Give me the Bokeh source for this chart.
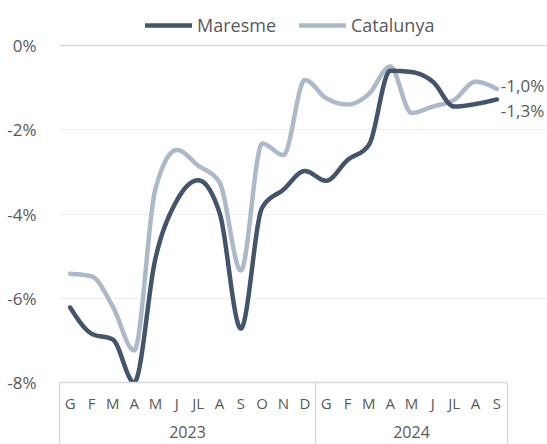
import numpy as np
from bokeh.plotting import figure
from bokeh.models import (Range1d, LinearAxis, FixedTicker, Legend, LegendItem, Grid)
from bokeh.core.properties import value
from bokeh.embed import file_html
from bokeh.resources import INLINE

# ---- data ----
months = ["G", "F", "M", "A", "M", "J", "JL", "A", "S", "O", "N", "D",
          "G", "F", "M", "A", "M", "J", "JL", "A", "S"]
years = ["2023", "2024"]
year_counts = [12, 9]
maresme = [-6.22, -6.84, -6.98, -8.00, -5.05, -3.68, -3.20, -3.97, -6.72, -3.85,
           -3.42, -2.98, -3.21, -2.72, -2.36, -0.60, -0.63, -0.86, -1.45, -1.39, -1.28]
catalunya = [-5.42, -5.48, -6.20, -7.24, -3.40, -2.48, -2.85, -3.25, -5.34, -2.33,
             -2.60, -0.82, -1.25, -1.40, -1.15, -0.50, -1.60, -1.45, -1.29, -0.86, -1.03]
y_ticks = [0, -2, -4, -6, -8]
y_labels = ["0%", "-2%", "-4%", "-6%", "-8%"]

FONT = "Open Sans"
TXT = "#595959"
DARK = "#44546A"
LIGHT = "#ADB9CA"

# ---- layout (pixels) ----
W, H = 547, 444
FL, FB = 59, 62            # left axis area, bottom axis area
PX_X = 448 / 21            # px per month
PX_Y = 337 / 8             # px per 1 %
TOP_PAD = 45               # space above the 0 % line (legend)


def monotone(ys, n=24):
    """Monotone cubic (d3 monotoneX) rendering of the series."""
    xs = np.arange(len(ys), dtype=float)
    y = np.asarray(ys, dtype=float)
    h = np.diff(xs)
    s = np.diff(y) / h
    t = np.zeros(len(y))
    for i in range(1, len(y) - 1):
        s0, s1 = s[i - 1], s[i]
        p_ = (s0 * h[i] + s1 * h[i - 1]) / (h[i - 1] + h[i])
        t[i] = (np.sign(s0) + np.sign(s1)) * min(abs(s0), abs(s1), 0.5 * abs(p_))
    t[0] = (3 * s[0] - t[1]) / 2
    t[-1] = (3 * s[-1] - t[-2]) / 2
    px, py = [], []
    for i in range(len(y) - 1):
        dx = h[i] / 3
        P0 = (xs[i], y[i])
        P1 = (xs[i] + dx, y[i] + dx * t[i])
        P2 = (xs[i + 1] - dx, y[i + 1] - dx * t[i + 1])
        P3 = (xs[i + 1], y[i + 1])
        u = np.linspace(0, 1, n, endpoint=(i == len(y) - 2))
        a = (1 - u) ** 3
        b = 3 * (1 - u) ** 2 * u
        c = 3 * (1 - u) * u ** 2
        d = u ** 3
        px.extend((a * P0[0] + b * P1[0] + c * P2[0] + d * P3[0]).tolist())
        py.extend((a * P0[1] + b * P1[1] + c * P2[1] + d * P3[1]).tolist())
    return px, py


n = len(months)
x_end = -0.5 + (W - FL) / PX_X
y_top = TOP_PAD / PX_Y
p = figure(width=W, height=H, output_backend="svg", toolbar_location=None,
           x_range=Range1d(-0.5, x_end), y_range=Range1d(-8, y_top),
           x_axis_location=None, y_axis_location=None,
           min_border_left=FL, min_border_right=0, min_border_top=0,
           min_border_bottom=FB)
p.outline_line_color = None
x_bounds = (-0.5, n - 0.5)

# y axis
yax = LinearAxis(ticker=FixedTicker(ticks=y_ticks),
                 major_label_overrides={t: l for t, l in zip(y_ticks, y_labels)})
yax.axis_line_color = None
yax.major_tick_line_color = None
yax.minor_tick_line_color = None
yax.major_label_text_font = FONT
yax.major_label_text_font_size = "17px"
yax.major_label_text_color = TXT
yax.major_label_standoff = 17
p.add_layout(yax, "left")

p.ygrid.grid_line_color = None
p.xgrid.grid_line_color = None
g1 = Grid(dimension=1, ticker=FixedTicker(ticks=[t for t in y_ticks if t != 0]),
          bounds=x_bounds, grid_line_color="#EFEFEF", grid_line_width=1)
g0 = Grid(dimension=1, ticker=FixedTicker(ticks=[0]),
          bounds=x_bounds, grid_line_color="#D9D9D9", grid_line_width=1.5)
p.add_layout(g1)
p.add_layout(g0)

# month axis (year separators drawn as long minor ticks; label standoff compensates)
bounds = [-0.5]
for c in year_counts:
    bounds.append(bounds[-1] + c)
mx = LinearAxis(ticker=FixedTicker(ticks=list(range(n)), minor_ticks=bounds),
                major_label_overrides={i: m for i, m in enumerate(months)},
                bounds=x_bounds)
mx.axis_line_color = "#D9D9D9"
mx.axis_line_width = 1.5
mx.major_tick_line_color = None
mx.major_tick_out = 0
mx.major_tick_in = 0
mx.minor_tick_line_color = "#D9D9D9"
mx.minor_tick_line_width = 1.5
mx.minor_tick_out = FB
mx.minor_tick_in = 0
mx.major_label_text_font = FONT
mx.major_label_text_font_size = "15px"
mx.major_label_text_color = TXT
mx.major_label_standoff = 10 - FB
p.add_layout(mx, "below")

# year axis
centers = [(bounds[i] + bounds[i + 1]) / 2 for i in range(len(years))]
yx = LinearAxis(ticker=FixedTicker(ticks=centers),
                major_label_overrides={c: yv for c, yv in zip(centers, years)})
yx.axis_line_color = None
yx.major_tick_line_color = None
yx.minor_tick_line_color = None
yx.major_tick_out = 0
yx.major_label_text_font = FONT
yx.major_label_text_font_size = "16px"
yx.major_label_text_color = TXT
yx.major_label_standoff = 10
p.add_layout(yx, "below")

# lines
mx_, my_ = monotone(maresme)
cx_, cy_ = monotone(catalunya)
r_c = p.line(cx_, cy_, line_color=LIGHT, line_width=4.5, line_cap="round", line_join="round")
r_m = p.line(mx_, my_, line_color=DARK, line_width=4.5, line_cap="round", line_join="round")

# end labels
fmt = lambda v: f"{v:.1f}%".replace(".", ",")
p.text(x=[n - 1], y=[catalunya[-1]], text=[fmt(catalunya[-1])], x_offset=4, y_offset=-3,
       text_font=value(FONT), text_font_size="17px", text_color=TXT,
       text_baseline="middle", text_align="left")
p.text(x=[n - 1], y=[maresme[-1]], text=[fmt(maresme[-1])], x_offset=4, y_offset=11,
       text_font=value(FONT), text_font_size="17px", text_color=TXT,
       text_baseline="middle", text_align="left")

legend = Legend(items=[LegendItem(label="Maresme", renderers=[r_m]),
                       LegendItem(label="Catalunya", renderers=[r_c])],
                orientation="horizontal", location=(86, H - FB - 37),
                label_text_font=FONT, label_text_font_size="18px",
                label_text_color=TXT, glyph_width=47, glyph_height=12,
                label_standoff=5, spacing=23, padding=0, margin=0,
                border_line_color=None, background_fill_alpha=0)
p.add_layout(legend, "center")

open("out.html", "w").write(file_html(p, INLINE))
